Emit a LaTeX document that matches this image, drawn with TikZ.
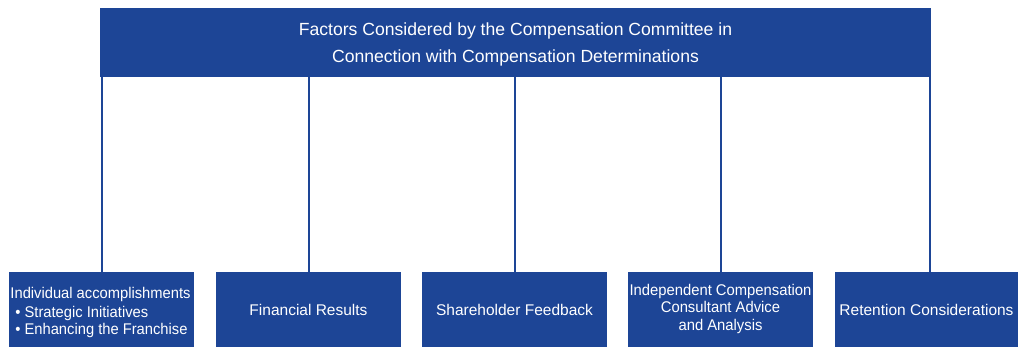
\documentclass[tikz,border=0pt]{standalone}
\usepackage{fontspec}
\setmainfont{Liberation Sans}
\definecolor{cblue}{RGB}{29,69,150}
\begin{document}
\begin{tikzpicture}[x=1pt,y=1pt,
  box/.style={draw=none,fill=cblue,text=white,inner sep=0pt,align=center,font=\fontsize{15.5}{17.5}\selectfont},
  link/.style={draw=cblue,line width=2pt}]
\useasboundingbox (0,0) rectangle (1018,347);
\node[box,minimum width=831pt,minimum height=69pt] (top) at (515.5,304.5) {};
\node[text=white,align=center,inner sep=0pt,font=\fontsize{17.6}{27}\selectfont] (toptext) at ([yshift=-2pt]top.center)
  {Factors Considered by the Compensation Committee in\\Connection with Compensation Determinations};
\node[box,minimum width=185pt,minimum height=75pt] (b1) at (101.5,37.5) {};
\node[text=white,inner sep=0pt,font=\fontsize{15.5}{17.5}\selectfont] (b1text) at ([xshift=-1pt,yshift=-4pt]b1.center)
  {\scalebox{0.95}[1]{\begin{tabular}{@{}l@{}}Individual accomplishments\\[1pt]
   \,\,• Strategic Initiatives\\\,\,• Enhancing the Franchise\end{tabular}}};
\node[box,minimum width=185pt,minimum height=75pt] (b2) at (308.5,37.5) {Financial Results};
\node[box,minimum width=185pt,minimum height=75pt] (b3) at (514.5,37.5) {Shareholder Feedback};
\node[box,minimum width=185pt,minimum height=75pt] (b4) at (720.5,37.5)
  {\scalebox{0.955}[1]{\begin{tabular}{@{}c@{}}Independent Compensation\\Consultant Advice\\and Analysis\end{tabular}}};
\node[box,minimum width=183pt,minimum height=75pt] (b5) at (926.5,37.5) {Retention Considerations};
\draw[link] (b1.north) -- (b1.north |- top.south);
\draw[link] (b2.north) -- (b2.north |- top.south);
\draw[link] (b3.north) -- (b3.north |- top.south);
\draw[link] (b4.north) -- (b4.north |- top.south);
\draw[link] ([xshift=-1.5pt]top.south east) -- ([xshift=-1.5pt]top.south east |- b5.north);
\end{tikzpicture}
\end{document}
